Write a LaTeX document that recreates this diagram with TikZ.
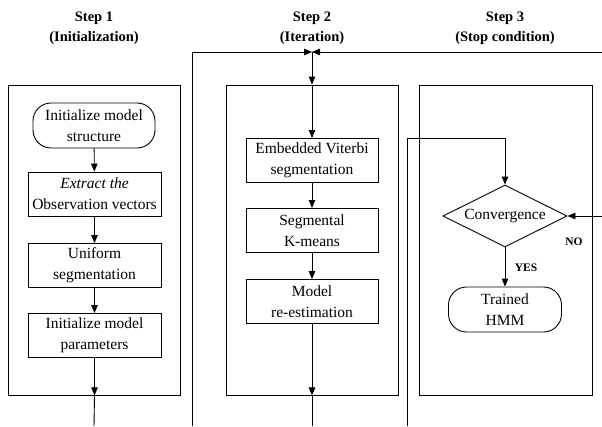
\documentclass[tikz,border=0pt]{standalone}
\usepackage{fontspec}
\setmainfont{Liberation Serif}
\usetikzlibrary{shapes.geometric,arrows.meta}
\begin{document}
\begin{tikzpicture}[x=1pt,y=-1pt,
  every path/.style={line width=0.9pt},
  arr/.style={-{Triangle[length=8pt,width=6.5pt]}},
  proc/.style={draw, line width=0.9pt, minimum width=133pt, minimum height=44pt, align=center, font=\fontsize{15.5}{21}\selectfont, inner sep=1pt},
  term/.style={proc, rounded corners=18pt},
  stage/.style={draw, line width=0.9pt, minimum width=172pt, minimum height=310pt},
  ttl/.style={font=\bfseries\fontsize{14.5}{20}\selectfont, align=center},
  lbl/.style={font=\bfseries\fontsize{11.5}{13}\selectfont},
  dec/.style={draw, line width=0.9pt, diamond, shape aspect=2, inner sep=0pt, minimum width=124pt, minimum height=62pt, font=\fontsize{15.5}{18}\selectfont}
]
\useasboundingbox (0,0) rectangle (602,426);

% titles
\node[ttl] (t1) at (94,28) {Step 1\\(Initialization)};
\node[ttl] (t2) at (312,28) {Step 2\\(Iteration)};
\node[ttl] (t3) at (505,28) {Step 3\\(Stop condition)};

% stage boxes
\node[stage] (s1) at (94,240) {};
\node[stage] (s2) at (312,240) {};
\node[stage, minimum width=173pt] (s3) at (505.5,240) {};

% step 1
\node[term, minimum width=122pt, minimum height=45pt] (a1) at (94,125.5) {Initialize model\\structure};
\node[proc] (a2) at (94.5,194) {\textit{Extract the}\\Observation vectors};
\node[proc] (a3) at (94.5,265.5) {Uniform\\segmentation};
\node[proc] (a4) at (94.5,335.5) {Initialize model\\parameters};
\coordinate (b1) at (94,426);

\draw[arr] (a1) -- (a2);
\draw[arr] (a2) -- (a3);
\draw[arr] (a3) -- (a4);
\draw[arr] (a4.south) -- (a4.south |- s1.south);
\draw (a4.south |- s1.south) -- (b1);

% step 2
\coordinate (J) at (312,52);
\coordinate (L) at (192,426);
\coordinate (R) at (602,52);
\node[proc, minimum width=132pt] (m1) at (312,160.5) {Embedded Viterbi\\segmentation};
\node[proc, minimum width=132pt] (m2) at (312,230.5) {Segmental\\K-means};
\node[proc, minimum width=132pt] (m3) at (312,301.5) {Model\\re-estimation};
\coordinate (b2) at (312,426);

\draw[arr] (L) |- (J);
\draw[arr] (R) -- (J);
\draw[arr] (J) -- (s2.north);
\draw[arr] (s2.north) -- (m1);
\draw[arr] (m1) -- (m2);
\draw[arr] (m2) -- (m3);
\draw[arr] (m3) -- (s2.south);
\draw (s2.south) -- (b2);

% step 3
\coordinate (b3) at (407,426);
\coordinate (c3) at (407,138);
\coordinate (noend) at (602,216);
\node[dec] (d) at (505,216) {Convergence};
\node[term, minimum width=113pt, minimum height=45pt] (h) at (505,309.5) {Trained\\HMM};

\draw[arr] (b3) -- (c3) -| (d.north);
\draw[arr] (noend) -- (d.east);
\draw[arr] (d) -- (h);
\node[lbl] (yes) at (526,268) {YES};
\node[lbl] (no) at (574,242) {NO};
\end{tikzpicture}
\end{document}
